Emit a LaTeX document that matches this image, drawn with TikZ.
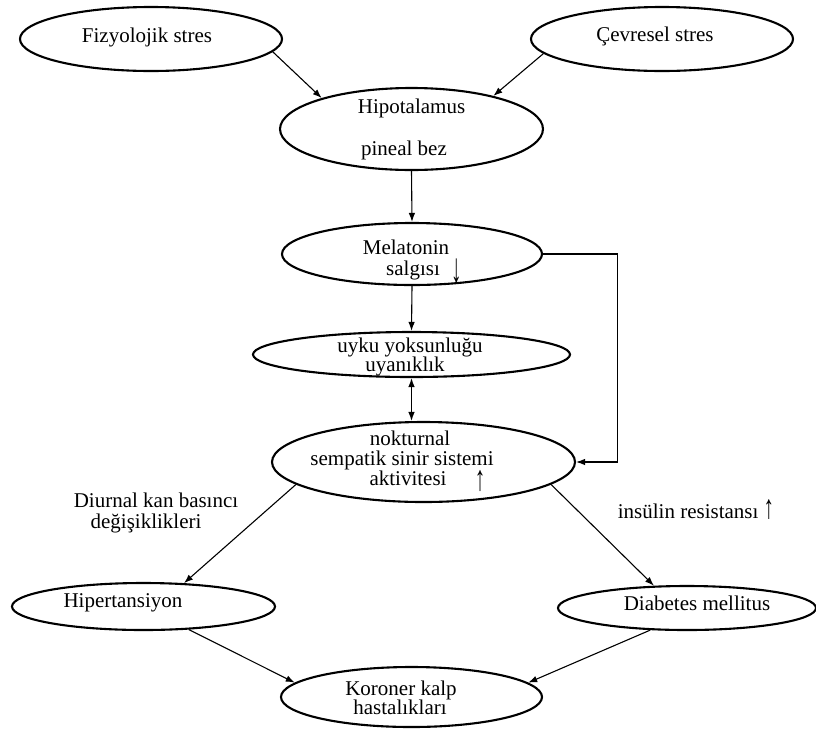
\documentclass[tikz,border=0pt]{standalone}
\usepackage{fontspec}
\usepackage{graphicx}
\setmainfont{Liberation Serif}
\usetikzlibrary{shapes.geometric,arrows.meta}
\begin{document}
\begin{tikzpicture}[x=1pt,y=-1pt,
  oval/.style={draw=black,line width=2.1pt,ellipse,inner sep=0pt},
  lbl/.style={inner sep=0pt,font=\fontsize{21}{24}\selectfont,text height=13pt,text depth=3pt},
  arr/.style={inner sep=0pt,font=\fontsize{21}{24}\selectfont},
  conn/.style={line width=1.1pt,-{Latex[length=9pt,width=6.5pt]}},
  dconn/.style={line width=1.1pt,{Latex[length=9pt,width=6.5pt]}-{Latex[length=9pt,width=6.5pt]}}]
\useasboundingbox (0,0) rectangle (816,729);
% ellipses
\node[oval,minimum width=262pt,minimum height=64pt] (fiz) at (151,39) {};
\node[oval,minimum width=262pt,minimum height=64pt] (cev) at (662,39) {};
\node[oval,minimum width=263pt,minimum height=82pt] (hip) at (411.5,129) {};
\node[oval,minimum width=260pt,minimum height=62pt] (mel) at (412,254) {};
\node[oval,minimum width=317pt,minimum height=45pt] (uyku) at (411.5,354.5) {};
\node[oval,minimum width=303pt,minimum height=80pt] (nok) at (423.5,462) {};
\node[oval,minimum width=263pt,minimum height=47pt] (hyp) at (143.5,606.5) {};
\node[oval,minimum width=258pt,minimum height=44pt] (dia) at (687,608) {};
\node[oval,minimum width=261pt,minimum height=60pt] (kor) at (411.5,697) {};
% texts
\node[lbl] (tfiz) at (147,37) {Fizyolojik stres};
\node[lbl] (tcev) at (655,36) {Çevresel stres};
\node[lbl] (thip1) at (411.5,108) {Hipotalamus};
\node[lbl] (thip2) at (404,150) {pineal bez};
\node[lbl] (tmel1) at (406,249) {Melatonin};
\node[lbl] (tmel2) at (413,270) {salgısı};
\node[arr] (tmelarr) at (457,271) {\scalebox{1}[2]{↓}};
\node[lbl] (tuy1) at (410,347) {uyku yoksunluğu};
\node[lbl] (tuy2) at (405,366) {uyanıklık};
\node[lbl] (tnok1) at (410,440) {nokturnal};
\node[lbl] (tnok2) at (402,460) {sempatik sinir sistemi};
\node[lbl] (tnok3) at (408,480) {aktivitesi};
\node[arr] (tnokarr) at (480,481) {\scalebox{1}[1.7]{↑}};
\node[lbl] (tdiu1) at (156,502) {Diurnal kan basıncı};
\node[lbl] (tdiu2) at (146,523) {değişiklikleri};
\node[lbl] (tins) at (696,513) {insülin resistansı \scalebox{1}[1.6]{↑}};
\node[lbl] (thyp) at (123,602) {Hipertansiyon};
\node[lbl] (tdia) at (697,605) {Diabetes mellitus};
\node[lbl] (tkor1) at (401,690) {Koroner kalp};
\node[lbl] (tkor2) at (400,709) {hastalıkları};
% connectors
\draw[conn] (fiz.-6) -- (hip.161);
\draw[conn] (cev.187) -- (hip.22);
\draw[conn] (hip.south) -- (mel.north);
\draw[conn] (mel.south) -- (uyku.north);
\draw[dconn] (uyku.south) -- (uyku.south |- nok.north);
\draw[conn] (mel.east) -| ([xshift=41pt]nok.east) -- (nok.east);
\draw[conn] (nok.190) -- (hyp.30);
\draw[conn] (nok.-10) -- (dia.146);
\draw[conn] (hyp.-27) -- (kor.173);
\draw[conn] (dia.211) -- (kor.7);
\end{tikzpicture}
\end{document}
